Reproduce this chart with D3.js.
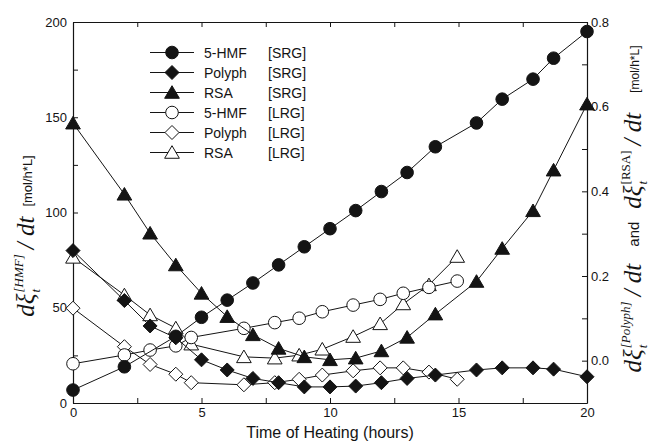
<!DOCTYPE html>
<html>
<head>
<meta charset="utf-8">
<script src="https://cdn.jsdelivr.net/npm/d3@7"></script>
<style>
  html, body { margin: 0; padding: 0; background: #fff; }
  svg { display: block; }
</style>
</head>
<body>
<svg id="chart" width="651" height="445"></svg>
<script>
// Heating times (hours) for the two sample groups
const srgHmfHours  = [0, 2, 4, 5, 6, 7, 8, 9, 10, 11, 12, 13, 14.1, 15.7, 16.7, 17.9, 18.7, 20];
const srgHours     = [0, 2, 3, 4, 5, 6, 7, 8, 9, 10, 11, 12, 13, 14.1, 15.7, 16.7, 17.9, 18.7, 20];
const lrgHours     = [0, 2, 3, 4, 4.6, 6.65, 7.85, 8.8, 9.7, 10.9, 11.95, 12.85, 13.85, 14.95];

// 5-HMF formation rate (left axis)
const hmfSrg = [6.8, 19, 35, 45, 54, 63, 72.5, 82, 91.5, 101, 111, 121, 134.5, 147, 159.5, 170, 181, 195];
const hmfLrg = [20.6, 25.2, 27.8, 30, 34.4, 39.2, 42.2, 44.5, 47.9, 51.4, 54.4, 57.6, 60.7, 64];

// Polyphenol and RSA rates (right axis)
const polySrg = [0.26, 0.142, 0.082, 0.054, 0.002, -0.022, -0.042, -0.052, -0.062, -0.062, -0.06, -0.052, -0.042, -0.034, -0.022, -0.017, -0.017, -0.02, -0.038];
const polyLrg = [0.124, 0.033, -0.009, -0.032, -0.052, -0.057, -0.052, -0.044, -0.034, -0.024, -0.017, -0.017, -0.027, -0.044];
const rsaSrg  = [0.561, 0.393, 0.301, 0.226, 0.159, 0.104, 0.061, 0.029, 0.009, 0.002, 0.006, 0.023, 0.055, 0.11, 0.187, 0.265, 0.354, 0.45, 0.606];
const rsaLrg  = [0.244, 0.155, 0.108, 0.077, 0.039, 0.009, 0.006, 0.013, 0.027, 0.057, 0.087, 0.134, 0.179, 0.246];

// Axis ticks
const xTicks = [0, 2.5, 5, 7.5, 10, 12.5, 15, 17.5, 20];
const xLabels = [0, 5, 10, 15, 20];
const leftTicks = [0, 25, 50, 75, 100, 125, 150, 175, 200];
const leftLabels = [0, 50, 100, 150, 200];
const rightTicks = [-0.1, 0, 0.1, 0.2, 0.3, 0.4, 0.5, 0.6, 0.7, 0.8];
const rightLabels = [0, 0.2, 0.4, 0.6, 0.8];

const legendNames = ["5-HMF", "Polyph", "RSA", "5-HMF", "Polyph", "RSA"];
const legendGroups = ["[SRG]", "[SRG]", "[SRG]", "[LRG]", "[LRG]", "[LRG]"];

const svg = d3.select("#chart");
const L = 73, R = 587, T = 22, B = 403;
const INK = "#141414";
const SANS = "'Liberation Sans', Arial, Helvetica, sans-serif";
const SERIF = "'Liberation Serif', 'Times New Roman', serif";

const x = d3.scaleLinear().domain([0, 20]).range([L, R]);
const yL = d3.scaleLinear().domain([0, 200]).range([B, T]);
const yR = d3.scaleLinear().domain([-0.1, 0.8]).range([B, T]);

// Marker shapes
const shapes = {
  circle: r => `M${r},0A${r},${r} 0 1,1 ${-r},0A${r},${r} 0 1,1 ${r},0Z`,
  diamond: r => `M0,${-r}L${r},0L0,${r}L${-r},0Z`,
  triangle: r => `M0,${-r}L${r * 1.08},${r * 0.85}L${-r * 1.08},${r * 0.85}Z`
};

const series = [
  { hours: lrgHours, vals: rsaLrg, y: yR, shape: "triangle", r: 6.8, fill: "#fff" },
  { hours: lrgHours, vals: polyLrg, y: yR, shape: "diamond", r: 7, fill: "#fff" },
  { hours: lrgHours, vals: hmfLrg, y: yL, shape: "circle", r: 6.3, fill: "#fff" },
  { hours: srgHours, vals: rsaSrg, y: yR, shape: "triangle", r: 6.8, fill: INK },
  { hours: srgHours, vals: polySrg, y: yR, shape: "diamond", r: 7, fill: INK },
  { hours: srgHmfHours, vals: hmfSrg, y: yL, shape: "circle", r: 6.3, fill: INK }
];

// Axes with inward ticks
function styleAxis(g) {
  g.selectAll("path.domain").attr("stroke", INK).attr("stroke-width", 1.2);
  g.selectAll(".tick line").attr("stroke", INK).attr("stroke-width", 1);
  g.selectAll(".tick text").attr("fill", INK).style("font-family", SANS).style("font-size", "13px");
}

svg.append("g").attr("transform", `translate(0,${B})`)
  .call(d3.axisBottom(x).tickValues(xTicks).tickSizeInner(-5).tickSizeOuter(0).tickPadding(5)
    .tickFormat(d => xLabels.includes(d) ? d3.format("d")(d) : ""))
  .call(styleAxis);

svg.append("g").attr("transform", `translate(0,${T})`)
  .call(d3.axisTop(x).tickValues(xTicks).tickSizeInner(-5).tickSizeOuter(0).tickFormat(""))
  .call(styleAxis);

svg.append("g").attr("transform", `translate(${L},0)`)
  .call(d3.axisLeft(yL).tickValues(leftTicks).tickSizeInner(-5).tickSizeOuter(0).tickPadding(6)
    .tickFormat(d => leftLabels.includes(d) ? d3.format("d")(d) : ""))
  .call(styleAxis);

svg.append("g").attr("transform", `translate(${R},0)`)
  .call(d3.axisRight(yR).tickValues(rightTicks).tickSizeInner(-5).tickSizeOuter(0).tickPadding(4)
    .tickFormat(d => rightLabels.some(v => Math.abs(v - d) < 1e-9) ? d3.format(".1f")(d) : ""))
  .call(styleAxis);

// Series lines and markers
const plot = svg.append("g");
series.forEach(s => {
  const pts = s.hours.map((h, i) => [x(h), s.y(s.vals[i])]);
  plot.append("path")
    .attr("d", d3.line()(pts))
    .attr("fill", "none").attr("stroke", INK).attr("stroke-width", 1);
  plot.selectAll(null).data(pts).join("path")
    .attr("transform", d => `translate(${d[0]},${d[1]})`)
    .attr("d", shapes[s.shape](s.r))
    .attr("fill", s.fill).attr("stroke", INK).attr("stroke-width", 1);
});

// Legend
const legendShapes = ["circle", "diamond", "triangle", "circle", "diamond", "triangle"];
const legend = svg.append("g");
legendNames.forEach((name, i) => {
  const yy = 52.5 + i * 20;
  const filled = i < 3;
  const r = legendShapes[i] === "circle" ? 6.3 : legendShapes[i] === "diamond" ? 7 : 6.8;
  legend.append("line").attr("x1", 150).attr("x2", 194).attr("y1", yy).attr("y2", yy)
    .attr("stroke", INK).attr("stroke-width", 1);
  legend.append("path").attr("transform", `translate(172,${yy})`)
    .attr("d", shapes[legendShapes[i]](r))
    .attr("fill", filled ? INK : "#fff").attr("stroke", INK);
  legend.append("text").attr("x", 204).attr("y", yy + 5).text(name)
    .style("font-family", SANS).style("font-size", "14px").attr("fill", INK);
  legend.append("text").attr("x", 268).attr("y", yy + 5).text(legendGroups[i])
    .style("font-family", SANS).style("font-size", "14px").attr("fill", INK);
});

// X axis title
svg.append("text").attr("x", (L + R) / 2).attr("y", 438).attr("text-anchor", "middle")
  .text("Time of Heating (hours)")
  .style("font-family", SANS).style("font-size", "16px").attr("fill", INK);

// Rotated rate labels built piece by piece
function mathLabel(cx, cy, pieces) {
  const g = svg.append("g").attr("transform", `translate(${cx},${cy}) rotate(-90)`);
  const inner = g.append("g");
  let pos = 0;
  const put = (txt, p, dy) => {
    const t = inner.append("text").attr("x", pos).attr("y", dy || 0).text(txt)
      .style("font-family", p.family || SERIF)
      .style("font-style", p.italic === false ? "normal" : "italic")
      .style("font-size", p.size + "px").attr("fill", INK)
      .attr("xml:space", "preserve");
    return t.node().getComputedTextLength();
  };
  pieces.forEach(p => {
    pos += p.gap || 0;
    if (p.up !== undefined) {
      const w1 = put(p.up, { size: p.size, italic: p.upItalic }, -11);
      const w2 = put(p.dn, { size: p.size }, 6);
      pos += Math.max(w1, w2);
    } else {
      pos += put(p.text, p, p.dy);
    }
  });
  inner.attr("transform", `translate(${-pos / 2},0)`);
}

mathLabel(34, 236, [
  { text: "dξ", size: 25 },
  { up: "[HMF]", dn: "t", size: 13, gap: 1 },
  { text: "/ dt", size: 25, gap: 5 },
  { text: "[mol/h*L]", family: SANS, italic: false, size: 13, gap: 10, dy: -2 }
]);

mathLabel(641, 209, [
  { text: "dξ", size: 25 },
  { up: "[Polyph]", dn: "t", size: 13, gap: 1 },
  { text: "/ dt", size: 25, gap: 5 },
  { text: "and", family: SANS, italic: false, size: 15, gap: 17, dy: -2 },
  { text: "dξ", size: 25, gap: 13 },
  { up: "[RSA]", dn: "t", size: 13, gap: 1, upItalic: false },
  { text: "/ dt", size: 25, gap: 5 },
  { text: "[mol/h*L]", family: SANS, italic: false, size: 12, gap: 20, dy: -2 }
]);
</script>
</body>
</html>
